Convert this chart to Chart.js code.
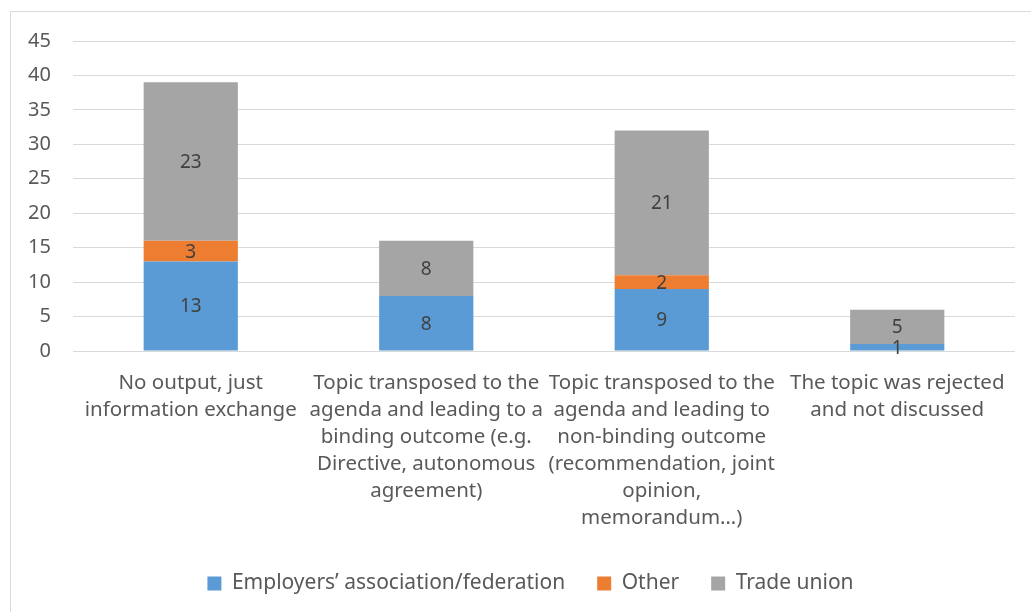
<!DOCTYPE html>
<html>
<head>
<meta charset="utf-8">
<script src="https://cdn.jsdelivr.net/npm/chart.js@4"></script>
<style>
    html, body { margin: 0; padding: 0; background: #ffffff; overflow: hidden; width: 1031px; height: 612px; }
    #frame {
        position: absolute; left: 10px; top: 11px; width: 1040px; height: 620px;
        border-left: 1px solid #d9d9d9; border-top: 1px solid #d9d9d9;
    }
    #chart-box { position: absolute; left: 0; top: 0; width: 1031px; height: 604px; }
</style>
</head>
<body>
<div id="frame"></div>
<div id="chart-box"><canvas id="outcome-chart"></canvas></div>
<script>
/**
 * Data
 */
const categories = [
    ["No output, just", "information exchange"],
    ["Topic transposed to the", "agenda and leading to a", "binding outcome (e.g.", "Directive, autonomous", "agreement)"],
    ["Topic transposed to the", "agenda and leading to", "non-binding outcome", "(recommendation, joint", "opinion,", "memorandum\u2026)"],
    ["The topic was rejected", "and not discussed"]
];
const series_names = ["Employers\u2019 association/federation", "Other", "Trade union"];
const employers_values = [13, 8, 9, 1];
const other_values = [3, 0, 2, 0];
const union_values = [23, 8, 21, 5];
const y_ticks = [0, 5, 10, 15, 20, 25, 30, 35, 40, 45];

const series_colors = ['#5b9bd5', '#ed7d31', '#a5a5a5'];
const font_family = "'Noto Sans', 'Open Sans', sans-serif";

/**
 * Write the value in the middle of each stacked segment
 */
const segment_labels = {
    id: 'segment_labels',
    afterDatasetsDraw(chart) {
        const ctx = chart.ctx;
        ctx.save();
        ctx.font = '19px ' + font_family;
        ctx.fillStyle = '#404040';
        ctx.textAlign = 'center';
        ctx.textBaseline = 'middle';

        chart.data.datasets.forEach((dataset, i) => {
            const meta = chart.getDatasetMeta(i);
            meta.data.forEach((bar, j) => {
                const value = dataset.data[j];
                if (!value) return;
                ctx.fillText(String(value), bar.x, (bar.y + bar.base) / 2 + 1);
            });
        });

        ctx.restore();
    }
};

/**
 * The legend is centred on the whole frame, not on the plot: nudge it right
 */
const legend_offset = {
    id: 'legend_offset',
    afterLayout(chart) {
        if (chart.legend) {
            chart.legend.left += 23;
            chart.legend.right += 23;
        }
    }
};

/**
 * Build one dataset of the stacked bars
 *
 * @param {number} index
 * @param {Array} values
 */
function make_dataset(index, values) {
    return {
        label: series_names[index],
        data: values,
        backgroundColor: series_colors[index],
        categoryPercentage: 1.0,
        barPercentage: 0.4
    };
}

new Chart(document.getElementById('outcome-chart').getContext('2d'), {
    type: 'bar',
    data: {
        labels: categories,
        datasets: [
            make_dataset(0, employers_values),
            make_dataset(1, other_values),
            make_dataset(2, union_values)
        ]
    },
    options: {
        responsive: true,
        maintainAspectRatio: false,
        animation: false,
        layout: { padding: { top: 41, right: 16, bottom: 0, left: 0 } },
        scales: {
            x: {
                stacked: true,
                grid: { display: false },
                border: { display: false },
                ticks: {
                    autoSkip: false,
                    maxRotation: 0,
                    minRotation: 0,
                    padding: 11,
                    color: '#595959',
                    font: { family: font_family, size: 20.5, lineHeight: 1.317 }
                },
                afterFit: (scale) => { scale.height = 190; }
            },
            y: {
                stacked: true,
                min: 0,
                max: 45,
                afterBuildTicks: (scale) => { scale.ticks = y_ticks.map(v => ({ value: v })); },
                grid: { color: '#d9d9d9', lineWidth: 1, drawTicks: false },
                border: { display: false },
                ticks: {
                    padding: 22,
                    color: '#595959',
                    font: { family: font_family, size: 20 }
                },
                afterFit: (scale) => { scale.width = 73; }
            }
        },
        plugins: {
            tooltip: { enabled: false },
            legend: {
                position: 'bottom',
                labels: {
                    boxWidth: 14,
                    boxHeight: 14,
                    padding: 32,
                    color: '#595959',
                    font: { family: font_family, size: 21 }
                }
            }
        }
    },
    plugins: [segment_labels, legend_offset]
});
</script>
</body>
</html>
